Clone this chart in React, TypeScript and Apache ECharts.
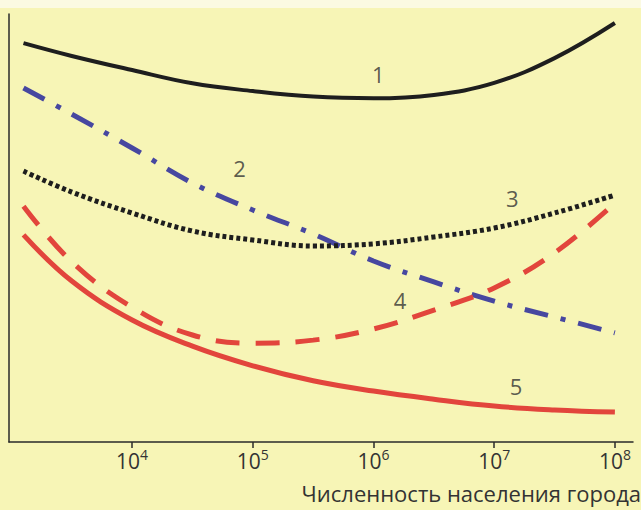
import React, { useEffect, useRef } from "react";
import * as echarts from "echarts";

// x: log10 of city population, y: relative value (0..100, arbitrary units)
const xLog = [3.1, 3.5, 4, 4.5, 5, 5.5, 6, 6.5, 7, 7.5, 8];
const curve1 = [93.2, 90.2, 86.9, 83.8, 82.0, 80.7, 80.3, 81.1, 83.9, 89.7, 97.9];
const curve2 = [82.7, 76.6, 68.7, 60.5, 54.2, 48.6, 42.3, 37.4, 32.9, 29.2, 25.5];
const curve3 = [63.3, 58.4, 53.5, 49.3, 47.2, 45.8, 46.3, 47.9, 50.0, 53.5, 57.7];
const curve4 = [55.1, 42.1, 31.5, 25.0, 23.1, 23.8, 26.4, 30.8, 36.0, 44.2, 55.8];
const curve5 = [48.4, 37.6, 28.5, 22.4, 17.8, 14.3, 11.9, 10.0, 8.4, 7.5, 7.0];
const tickExps = [4, 5, 6, 7, 8];
const curveNames = ["1", "2", "3", "4", "5"];
const labelX = [6.04, 4.89, 7.15, 6.22, 7.18];
const labelY = [86.0, 64.0, 57.0, 33.2, 13.1];
const axisTitle = "Численность населения города";

const pair = (ys: number[]) => xLog.map((x, i) => [x, ys[i]]);

export default function App() {
  const ref = useRef<HTMLDivElement>(null);
  useEffect(() => {
    if (!ref.current) return;
    const chart = echarts.init(ref.current, null, { renderer: "svg" });
    const font = "'Open Sans', 'Noto Sans', sans-serif";
    const lineSeries = (data: number[], color: string, width: number, type: any) => ({
      type: "line",
      data: pair(data),
      smooth: 0.4,
      showSymbol: false,
      symbol: "none",
      lineStyle: { color, width, type, cap: "butt" },
      z: 3,
    });
    chart.setOption({
      animation: false,
      backgroundColor: "#f7f5b6",
      grid: { left: 9, right: 8, top: 14, bottom: 68 },
      xAxis: {
        type: "value",
        min: 2.98,
        max: 8.15,
        axisLine: { show: true, lineStyle: { color: "#2a2a2a", width: 1.5 } },
        axisTick: { show: true, customValues: tickExps, length: 6, lineStyle: { color: "#2a2a2a", width: 1.5 } },
        axisLabel: {
          show: true,
          customValues: tickExps,
          margin: 5,
          formatter: (v: number) => `{b|10}{s|${Math.round(v)}}`,
          rich: {
            b: { fontFamily: font, fontSize: 21, color: "#333" },
            s: { fontFamily: font, fontSize: 14, color: "#333", padding: [0, 0, 13, 0] },
          },
        },
        splitLine: { show: false },
      },
      yAxis: {
        type: "value",
        min: 0,
        max: 100,
        axisLine: { show: true, lineStyle: { color: "#2a2a2a", width: 1.5 } },
        axisTick: { show: false },
        axisLabel: { show: false },
        splitLine: { show: false },
      },
      graphic: [
        { type: "rect", left: 0, top: 0, shape: { width: 641, height: 8 }, style: { fill: "#fbfae2" }, z: -1 },
        {
          type: "text",
          right: 0,
          top: 482,
          style: { text: axisTitle, font: `22px ${font}`, fill: "#333" },
        },
      ],
      series: [
        lineSeries(curve1, "#1e1e1e", 4, "solid"),
        lineSeries(curve2, "#4747a0", 5, [24, 13, 5, 13]),
        lineSeries(curve3, "#1e1e1e", 5, [4, 3]),
        lineSeries(curve4, "#e2453c", 5, [24, 16]),
        lineSeries(curve5, "#e2453c", 5, "solid"),
        {
          type: "scatter",
          symbolSize: 0,
          data: curveNames.map((n, i) => ({ value: [labelX[i], labelY[i]], name: n })),
          label: {
            show: true,
            position: "inside",
            formatter: (p: any) => p.name,
            fontFamily: font,
            fontSize: 22,
            color: "#333",
          },
          z: 4,
        },
      ],
    });
    return () => chart.dispose();
  }, []);
  return <div ref={ref} style={{ position: "fixed", left: 0, top: 0, width: 641, height: 510 }} />;
}
